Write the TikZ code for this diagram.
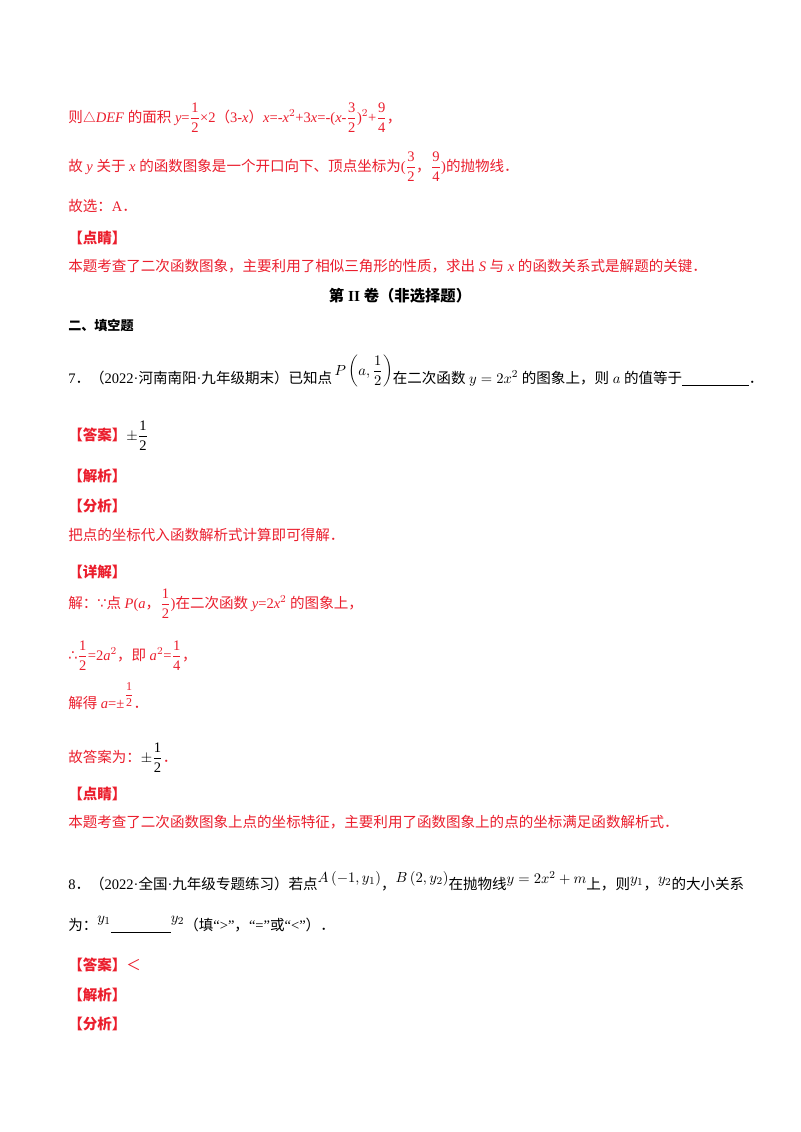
\documentclass[tikz,border=0pt]{standalone}
\usepackage{fontspec}
\setmainfont{Liberation Serif}
\newfontfamily\cjk{Noto Sans CJK SC}
\newfontfamily\dv{DejaVu Sans}
\XeTeXinterchartokenstate=1
\newXeTeXintercharclass\cjkclass
\count255="3000 \loop \XeTeXcharclass\count255=\cjkclass \advance\count255 by 1 \ifnum\count255<"3040 \repeat
\count255="4E00 \loop \XeTeXcharclass\count255=\cjkclass \advance\count255 by 1 \ifnum\count255<"A000 \repeat
\count255="FF00 \loop \XeTeXcharclass\count255=\cjkclass \advance\count255 by 1 \ifnum\count255<"FFF0 \repeat
\XeTeXinterchartoks 0 \cjkclass = {\begingroup\cjk}
\XeTeXinterchartoks 4095 \cjkclass = {\begingroup\cjk}
\XeTeXinterchartoks \cjkclass 0 = {\endgroup}
\XeTeXinterchartoks \cjkclass 4095 = {\endgroup}
\definecolor{rd}{RGB}{235,30,45}
\newcommand{\blank}[1]{\rule[-2pt]{#1}{0.5pt}}
\newcommand{\fr}[2]{{\displaystyle\frac{\mathrm{#1}}{\mathrm{#2}}}}
\begin{document}
\begin{tikzpicture}[x=0.75pt,y=-0.75pt,
  ln/.style={anchor=base west,inner sep=0pt,font=\fontsize{10.9}{12}\selectfont},
  red/.style={ln,text=rd},
  hd/.style={red,font=\fontsize{10.9}{12}\selectfont\bfseries}]
\useasboundingbox[fill=white] (0,0) rectangle (800,1132);
\node[red] (l1) at (68,122) {则$\triangle$\textit{DEF} 的面积 \textit{y}=$\fr{1}{2}$×2（3-\textit{x}）\textit{x}=-\textit{x}$^2$+3\textit{x}=-(\textit{x}-$\fr{3}{2}$)$^2$+$\fr{9}{4}$，};
\node[red] (l2) at (68,171) {故 \textit{y} 关于 \textit{x} 的函数图象是一个开口向下、顶点坐标为($\fr{3}{2}$，$\fr{9}{4}$)的抛物线．};
\node[red] (l3) at (68,211) {故选：A．};
\node[hd] (l4) at (68,243) {【点睛】};
\node[red] (l5) at (68,271) {本题考查了二次函数图象，主要利用了相似三角形的性质，求出 \textit{S} 与 \textit{x} 的函数关系式是解题的关键．};
\node[ln,anchor=base,font=\fontsize{11.5}{12}\selectfont\bfseries] (t) at (400,301) {第 II 卷（非选择题）};
\node[ln,font=\fontsize{9.8}{12}\selectfont\bfseries] (s) at (68,330) {二、填空题};
\node[ln] (q7) at (68,383) {7．（2022·河南南阳·九年级期末）已知点\,$\raisebox{6pt}{$P\left(a,\displaystyle\frac{1}{2}\right)$}$在二次函数 $y=2x^2$ 的图象上，则 $a$ 的值等于\blank{50pt}．};
\node[ln,text=rd] (a7) at (68,440) {\textbf{【答案】}\textcolor{black}{$\pm\fr{1}{2}$}};
\node[hd] (j1) at (68,481) {【解析】};
\node[hd] (f1) at (68,511) {【分析】};
\node[red] (b1) at (68,540) {把点的坐标代入函数解析式计算即可得解．};
\node[hd] (x1) at (68,577) {【详解】};
\node[red] (d1) at (68,608) {解：{\dv ∵}点 \textit{P}(\textit{a}，$\fr{1}{2}$)在二次函数 \textit{y}=2\textit{x}$^2$ 的图象上，};
\node[red] (d2) at (68,660) {{\dv ∴}$\fr{1}{2}$=2\textit{a}$^2$，即 \textit{a}$^2$=$\fr{1}{4}$，};
\node[red] (d3) at (68,708) {解得 \textit{a}=±$\raisebox{7pt}{\small$\fr{1}{2}$}$．};
\node[red] (d4) at (68,762) {故答案为：\textcolor{black}{$\pm\fr{1}{2}$}．};
\node[hd] (p2) at (68,799) {【点睛】};
\node[red] (p3) at (68,827) {本题考查了二次函数图象上点的坐标特征，主要利用了函数图象上的点的坐标满足函数解析式．};
\node[ln] (q8) at (68,889) {8．（2022·全国·九年级专题练习）若点$\raisebox{5pt}{$A\left(-1,y_1\right)$}$，$\raisebox{5pt}{$B\left(2,y_2\right)$}$在抛物线$\raisebox{4pt}{$y=2x^2+m$}$上，则$\raisebox{4pt}{$y_1$}$，$\raisebox{4pt}{$y_2$}$的大小关系};
\node[ln] (q8b) at (68,930) {为：$\raisebox{6pt}{$y_1$}$\blank{45pt}$\raisebox{6pt}{$y_2$}$（填“>”，“=”或“<”）．};
\node[hd] (a8) at (68,970) {【答案】\textmd{＜}};
\node[hd] (j2) at (68,1000) {【解析】};
\node[hd] (f2) at (68,1029) {【分析】};
\end{tikzpicture}
\end{document}
